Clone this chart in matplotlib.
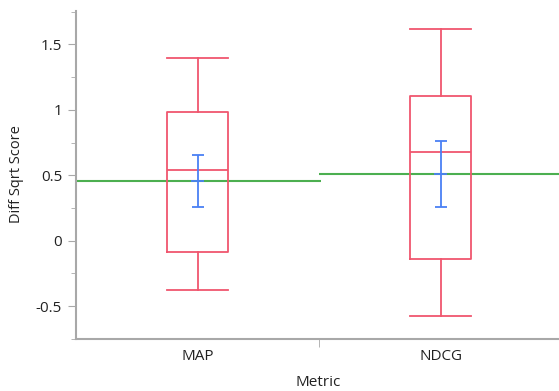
import matplotlib
matplotlib.use("Agg")
import matplotlib.pyplot as plt
from matplotlib.ticker import MultipleLocator, FixedLocator

plt.rcParams["font.family"] = ["Open Sans", "DejaVu Sans"]

# data
metrics = ["MAP", "NDCG"]
whis_lo = [-0.377, -0.576]
q1 = [-0.084, -0.138]
medians = [0.541, 0.676]
q3 = [0.982, 1.106]
whis_hi = [1.399, 1.618]
means = [0.456, 0.51]
ci_lo = [0.26, 0.26]
ci_hi = [0.655, 0.762]

red = "#f0566e"
blue = "#4a80f5"
green = "#4caf50"
spine = "#a8a8a8"

fig = plt.figure(figsize=(5.59, 3.91), dpi=100)
ax = fig.add_axes([76 / 559, 1 - 339 / 391, 486 / 559, 328 / 391])

stats = []
for i, m in enumerate(metrics):
    stats.append(dict(label=m, med=medians[i], q1=q1[i], q3=q3[i],
                      whislo=whis_lo[i], whishi=whis_hi[i], fliers=[]))
lp = dict(color=red, linewidth=1.3)
ax.bxp(stats, positions=range(len(metrics)), widths=0.247, showfliers=False,
       boxprops=lp, whiskerprops=lp, capprops=lp, medianprops=lp,
       capwidths=0.247, manage_ticks=False)

# group means
for i in range(len(metrics)):
    ax.hlines(means[i], i - 0.5, i + 0.5 + (0.01 if i == 0 else 0),
              color=green, linewidth=1.5, zorder=1)

# mean confidence intervals
pos = list(range(len(metrics)))
ax.errorbar(pos, means,
            yerr=[[m - l for m, l in zip(means, ci_lo)],
                  [h - m for m, h in zip(means, ci_hi)]],
            fmt="none", ecolor=blue, elinewidth=1.3, capsize=4.5, capthick=1.3,
            zorder=4)
ax.hlines(means, [p - 0.026 for p in pos], [p + 0.026 for p in pos],
          color=blue, linewidth=1.3, zorder=4)

ax.set_xlim(-0.5, 1.5)
ax.set_ylim(-0.751, 1.756)

ax.set_xticks(pos)
ax.set_xticklabels(metrics)
ax.xaxis.set_minor_locator(FixedLocator([0.5]))
ax.tick_params(axis="x", which="major", length=0, pad=7, labelsize=11,
               colors="#222222")
ax.tick_params(axis="x", which="minor", length=6, color=spine)

ax.yaxis.set_major_locator(MultipleLocator(0.5))
ax.yaxis.set_minor_locator(MultipleLocator(0.25))
ax.set_yticks([-0.5, 0, 0.5, 1, 1.5])
ax.set_yticklabels(["-0.5", "0", "0.5", "1", "1.5"])
ax.tick_params(axis="y", which="major", length=6, pad=4, color=spine,
               labelsize=11, labelcolor="#222222")
ax.tick_params(axis="y", which="minor", length=3.5, color=spine)

for s in ["top", "right"]:
    ax.spines[s].set_visible(False)
for s in ["left", "bottom"]:
    ax.spines[s].set_color(spine)
    ax.spines[s].set_linewidth(1.5)

fig.text(17 / 559, 1 - 174 / 391, "Diff Sqrt Score", rotation=90,
         ha="center", va="center", fontsize=10.5, color="#222222")
fig.text(318 / 559, 1 - 382 / 391, "Metric", ha="center", va="center",
         fontsize=11, color="#222222")

fig.savefig("out.png", dpi=100)
